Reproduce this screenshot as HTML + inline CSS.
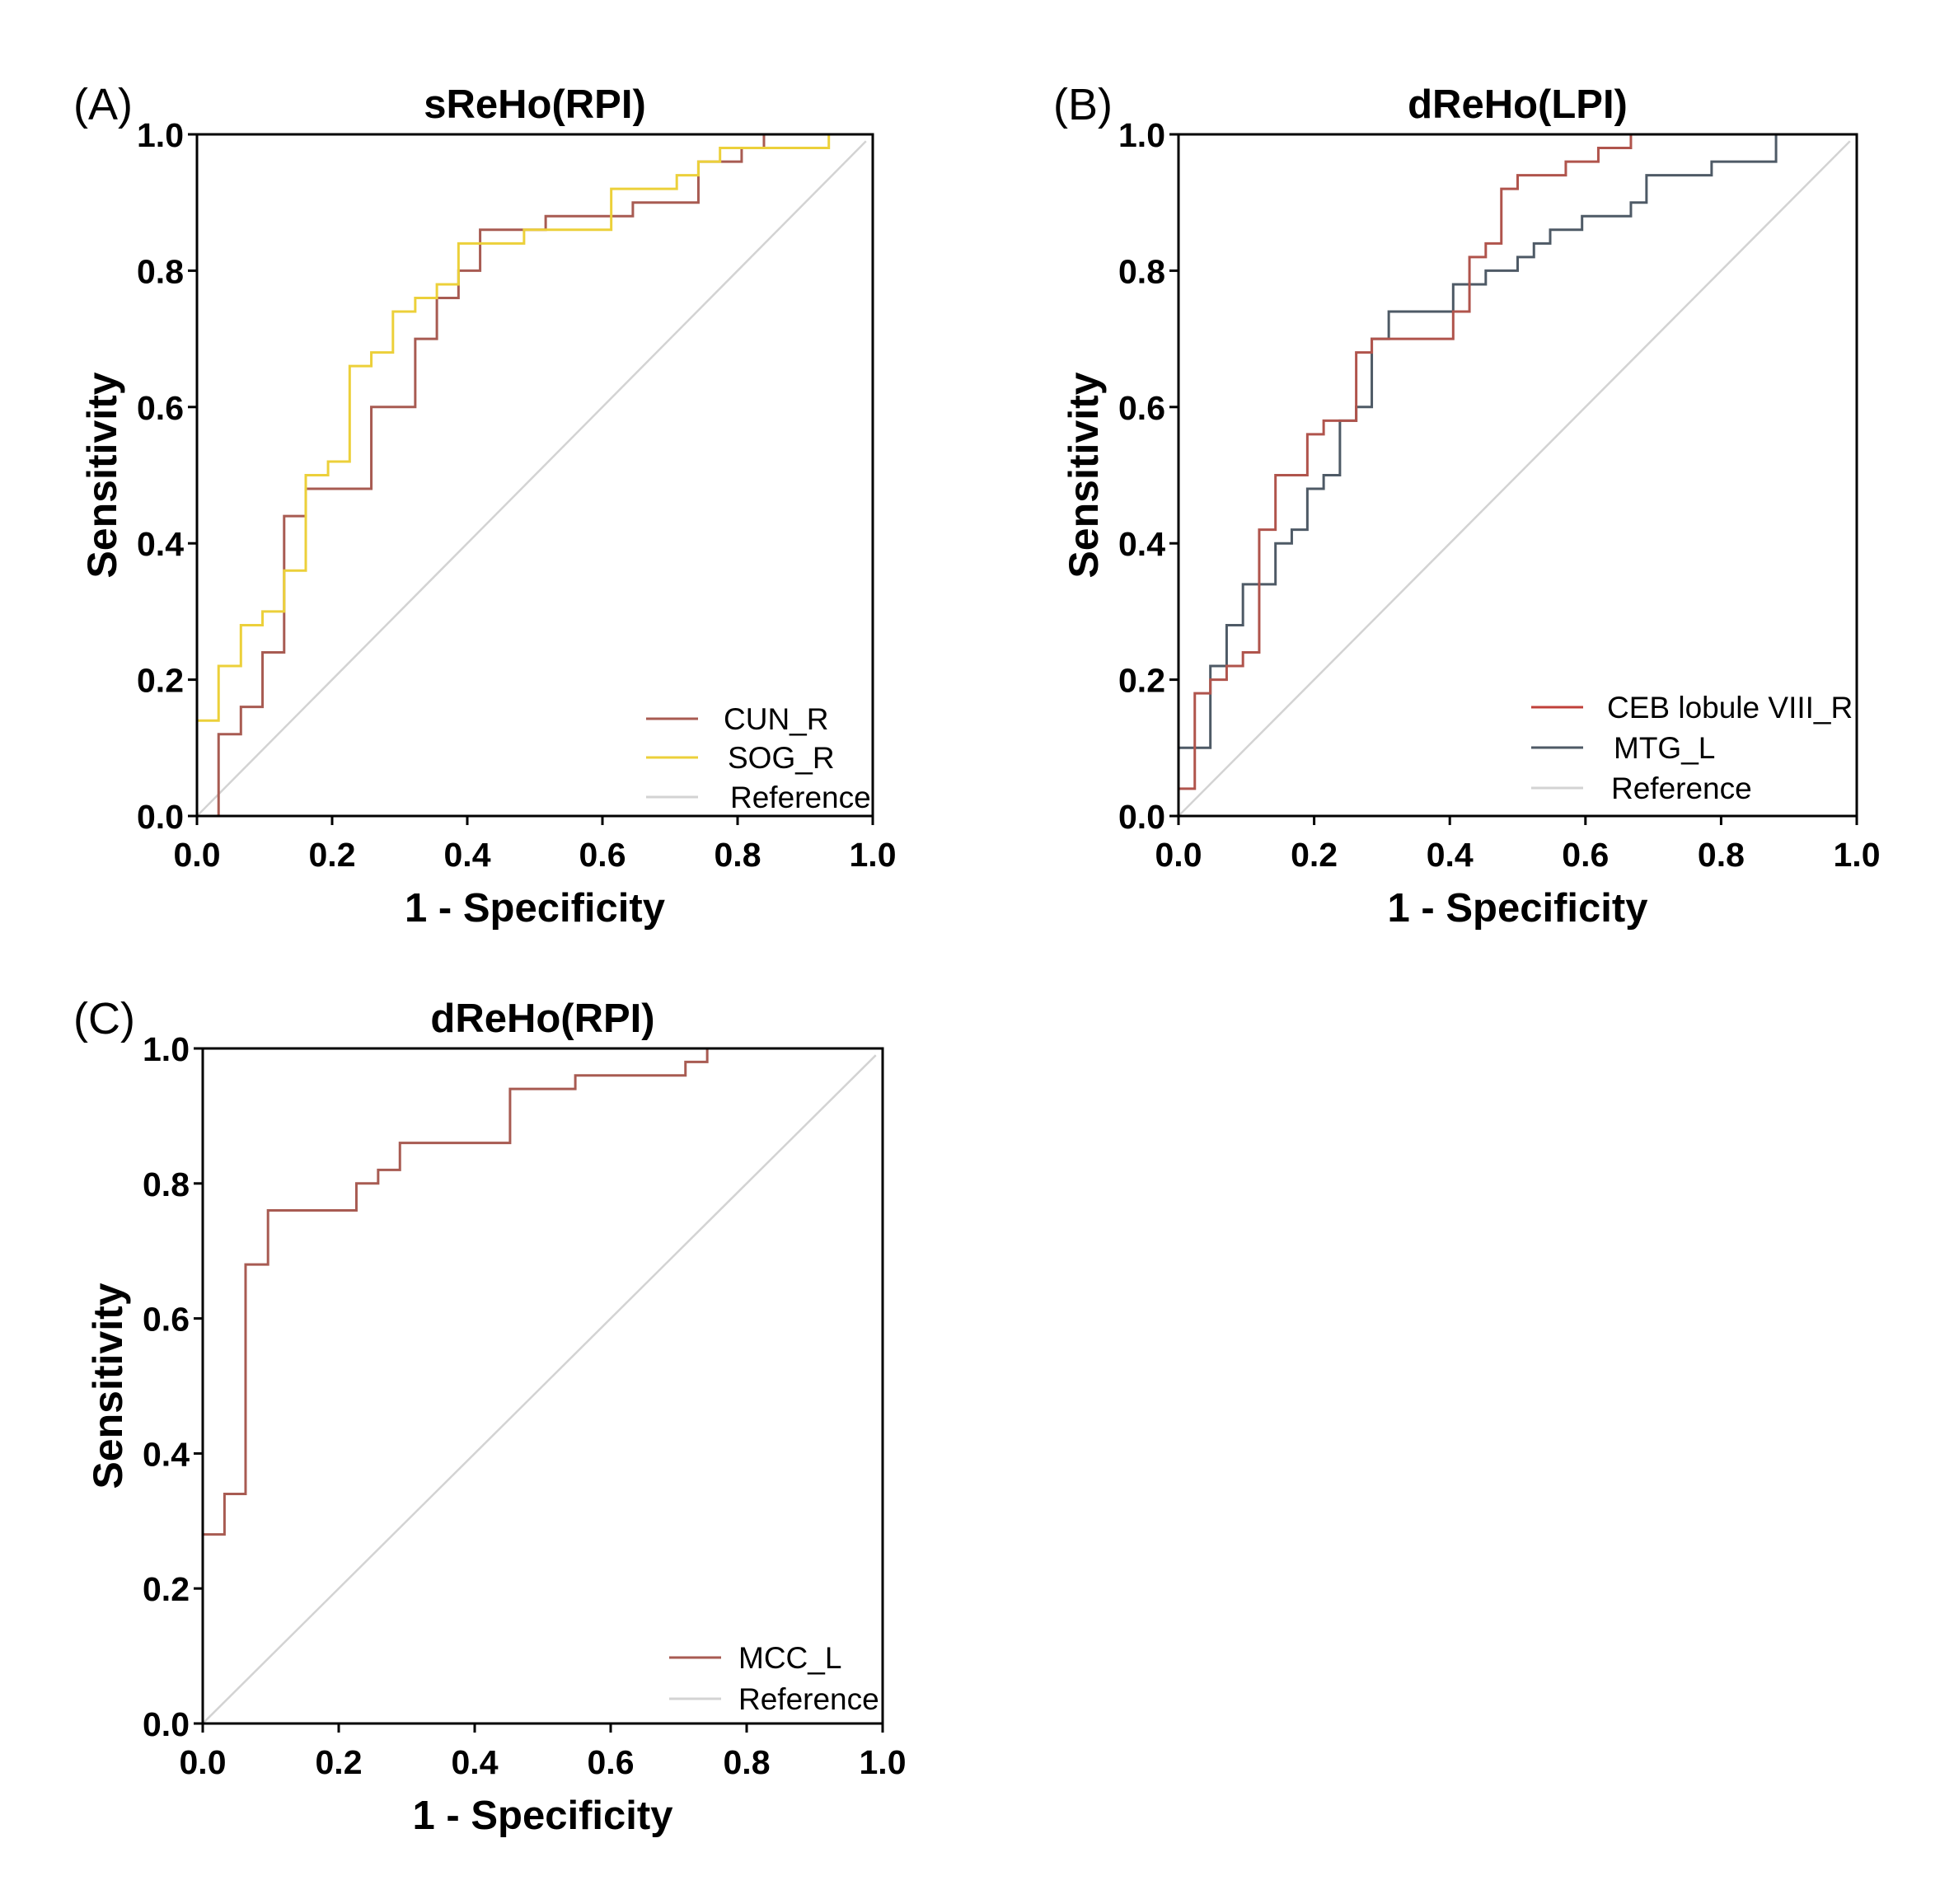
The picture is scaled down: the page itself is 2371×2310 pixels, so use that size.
<!DOCTYPE html>
<html><head><meta charset="utf-8">
<style>
html,body{margin:0;padding:0;background:#fff;}
svg{display:block;}
text{font-family:"Liberation Sans",Arial,sans-serif;}
</style></head>
<body>
<svg id="fig" width="2371" height="2310" viewBox="0 0 2371 2310" xmlns="http://www.w3.org/2000/svg"></svg>
<script>
// Panel A data
const sogX = [0.0, 0.032, 0.065, 0.097, 0.129, 0.161, 0.194, 0.226, 0.258, 0.290, 0.323, 0.355, 0.387, 0.484, 0.613, 0.710, 0.742, 0.774, 0.935];
const sogY = [0.14, 0.22, 0.28, 0.30, 0.36, 0.50, 0.52, 0.66, 0.68, 0.74, 0.76, 0.78, 0.84, 0.86, 0.92, 0.94, 0.96, 0.98, 1.0];
const sogEnd = 0.968;
const cunX = [0.032, 0.065, 0.097, 0.129, 0.161, 0.258, 0.323, 0.355, 0.387, 0.419, 0.516, 0.645, 0.742, 0.806, 0.839];
const cunY = [0.12, 0.16, 0.24, 0.44, 0.48, 0.60, 0.70, 0.76, 0.80, 0.86, 0.88, 0.90, 0.96, 0.98, 1.0];
const cunEnd = 0.935;
// Panel B data
const cebX = [0.0, 0.024, 0.047, 0.071, 0.095, 0.119, 0.143, 0.190, 0.214, 0.262, 0.285, 0.405, 0.429, 0.453, 0.476, 0.500, 0.571, 0.619, 0.667];
const cebY = [0.04, 0.18, 0.20, 0.22, 0.24, 0.42, 0.50, 0.56, 0.58, 0.68, 0.70, 0.74, 0.82, 0.84, 0.92, 0.94, 0.96, 0.98, 1.0];
const cebEnd = 0.881;
const mtgX = [0.0, 0.047, 0.071, 0.095, 0.143, 0.167, 0.190, 0.214, 0.238, 0.262, 0.285, 0.310, 0.405, 0.453, 0.500, 0.524, 0.548, 0.595, 0.667, 0.690, 0.786, 0.881];
const mtgY = [0.10, 0.22, 0.28, 0.34, 0.40, 0.42, 0.48, 0.50, 0.58, 0.60, 0.70, 0.74, 0.78, 0.80, 0.82, 0.84, 0.86, 0.88, 0.90, 0.94, 0.96, 1.0];
const mtgEnd = 0.976;
// Panel C data
const mccX = [0.0, 0.032, 0.063, 0.096, 0.226, 0.258, 0.290, 0.452, 0.548, 0.710, 0.742];
const mccY = [0.28, 0.34, 0.68, 0.76, 0.80, 0.82, 0.86, 0.94, 0.96, 0.98, 1.0];
const mccEnd = 0.967;
const tickLabels = ["0.0", "0.2", "0.4", "0.6", "0.8", "1.0"];
const tickValues = [0, 0.2, 0.4, 0.6, 0.8, 1.0];

const NS = "http://www.w3.org/2000/svg";
const fig = document.getElementById('fig');
function mk(tag, attrs, parent, txt) {
  const e = document.createElementNS(NS, tag);
  for (const k in attrs) e.setAttribute(k, attrs[k]);
  if (txt !== undefined) e.textContent = txt;
  (parent || fig).appendChild(e);
  return e;
}
function stepPath(xs, ys, end, sx, sy, y0start) {
  let d = 'M' + sx(xs[0]) + ',' + sy(y0start);
  for (let i = 0; i < xs.length; i++) {
    d += ' L' + sx(xs[i]) + ',' + sy(i === 0 ? y0start : ys[i - 1]);
    d += ' L' + sx(xs[i]) + ',' + sy(ys[i]);
  }
  d += ' L' + sx(end) + ',' + sy(ys[ys.length - 1]);
  return d;
}
function panel(p) {
  const g = mk('g', {});
  
  
  const sx = v => p.x0 + v * (p.x1 - p.x0);
  const sy = v => p.y0 + v * (p.y1 - p.y0);
  const ref = mk('line', {x1: sx(0), y1: sy(0), x2: sx(0.99), y2: sy(0.99), stroke: '#d3d3d3', 'stroke-width': 2.5}, g);
  
  
  p.series.forEach(s => {
    const path = mk('path', {d: stepPath(s.x, s.y, s.end, sx, sy, s.start), fill: 'none', stroke: s.color, 'stroke-width': 3}, g);
    
    
  });
  const box = mk('path', {d: `M${p.x0},${p.y1} L${p.x1},${p.y1} L${p.x1},${p.y0} L${p.x0},${p.y0} Z`, fill: 'none', stroke: '#000', 'stroke-width': 3}, g);
  
  
  tickValues.forEach((v, i) => {
    mk('line', {x1: sx(v), y1: p.y0, x2: sx(v), y2: p.y0 + 11, stroke: '#000', 'stroke-width': 3}, g);
    mk('line', {x1: p.x0 - 11, y1: sy(v), x2: p.x0, y2: sy(v), stroke: '#000', 'stroke-width': 3}, g);
    const xt = mk('text', {x: sx(v), y: p.y0 + 61, 'text-anchor': 'middle', 'font-size': 41, 'font-weight': 'bold'}, g, tickLabels[i]);
    
    
    const yt = mk('text', {x: p.x0 - 16, y: sy(v) + 15, 'text-anchor': 'end', 'font-size': 41, 'font-weight': 'bold'}, g, tickLabels[i]);
    
    
  });
  const cx = (p.x0 + p.x1) / 2;
  const t = mk('text', {x: cx, y: p.y1 - 20, 'text-anchor': 'middle', 'font-size': 49, 'font-weight': 'bold'}, g, p.title);
  
  
  const lab = mk('text', {x: p.labX, y: p.y1 - 18, 'font-size': 54}, g, p.label);
  
  
  const xa = mk('text', {x: cx, y: p.y0 + 128, 'text-anchor': 'middle', 'font-size': 49, 'font-weight': 'bold'}, g, '1 - Specificity');
  
  
  const cy = (p.y0 + p.y1) / 2;
  const ya = mk('text', {x: 0, y: 0, 'text-anchor': 'middle', 'font-size': 50, 'font-weight': 'bold', transform: `translate(${p.x0 - 98},${cy}) rotate(-90)`}, g, 'Sensitivity');
  
  
  p.legend.forEach(L => {
    const ll = mk('line', {x1: L.lx, y1: L.y, x2: L.lx + 63, y2: L.y, stroke: L.color, 'stroke-width': 3}, g);
    
    
    const lt = mk('text', {x: L.tx, y: L.y + 13, 'font-size': 37}, g, L.text);
    
    
  });
}
const CUN = '#a85b52', SOG = '#ecd03a', CEB = '#b0544c', MTG = '#4e5a66', REF = '#d3d3d3';
panel({id: 'a', x0: 239, x1: 1059, y0: 990, y1: 163, title: 'sReHo(RPI)', label: '(A)', labX: 89,
  series: [
    {name: 'cun-r', x: cunX, y: cunY, end: cunEnd, start: 0, color: CUN},
    {name: 'sog-r', x: sogX, y: sogY, end: sogEnd, start: 0.02, color: SOG}
  ],
  legend: [
    {lx: 784, tx: 878, y: 872, color: CUN, text: 'CUN_R'},
    {lx: 784, tx: 883, y: 919, color: SOG, text: 'SOG_R'},
    {lx: 784, tx: 886, y: 967, color: REF, text: 'Reference'}
  ]});
panel({id: 'b', x0: 1430, x1: 2253, y0: 990, y1: 163, title: 'dReHo(LPI)', label: '(B)', labX: 1278,
  series: [
    {name: 'mtg-l', x: mtgX, y: mtgY, end: mtgEnd, start: 0.02, color: MTG},
    {name: 'ceb-lobule-viii-r', x: cebX, y: cebY, end: cebEnd, start: 0.02, color: CEB}
  ],
  legend: [
    {lx: 1858, tx: 1950, y: 858, color: '#c0403a', text: 'CEB lobule VIII_R'},
    {lx: 1858, tx: 1958, y: 907, color: MTG, text: 'MTG_L'},
    {lx: 1858, tx: 1955, y: 956, color: REF, text: 'Reference'}
  ]});
panel({id: 'c', x0: 246, x1: 1071, y0: 2091, y1: 1272, title: 'dReHo(RPI)', label: '(C)', labX: 89,
  series: [
    {name: 'mcc-l', x: mccX, y: mccY, end: mccEnd, start: 0, color: CUN}
  ],
  legend: [
    {lx: 812, tx: 896, y: 2011, color: CUN, text: 'MCC_L'},
    {lx: 812, tx: 896, y: 2061, color: REF, text: 'Reference'}
  ]});
</script>
</body></html>
